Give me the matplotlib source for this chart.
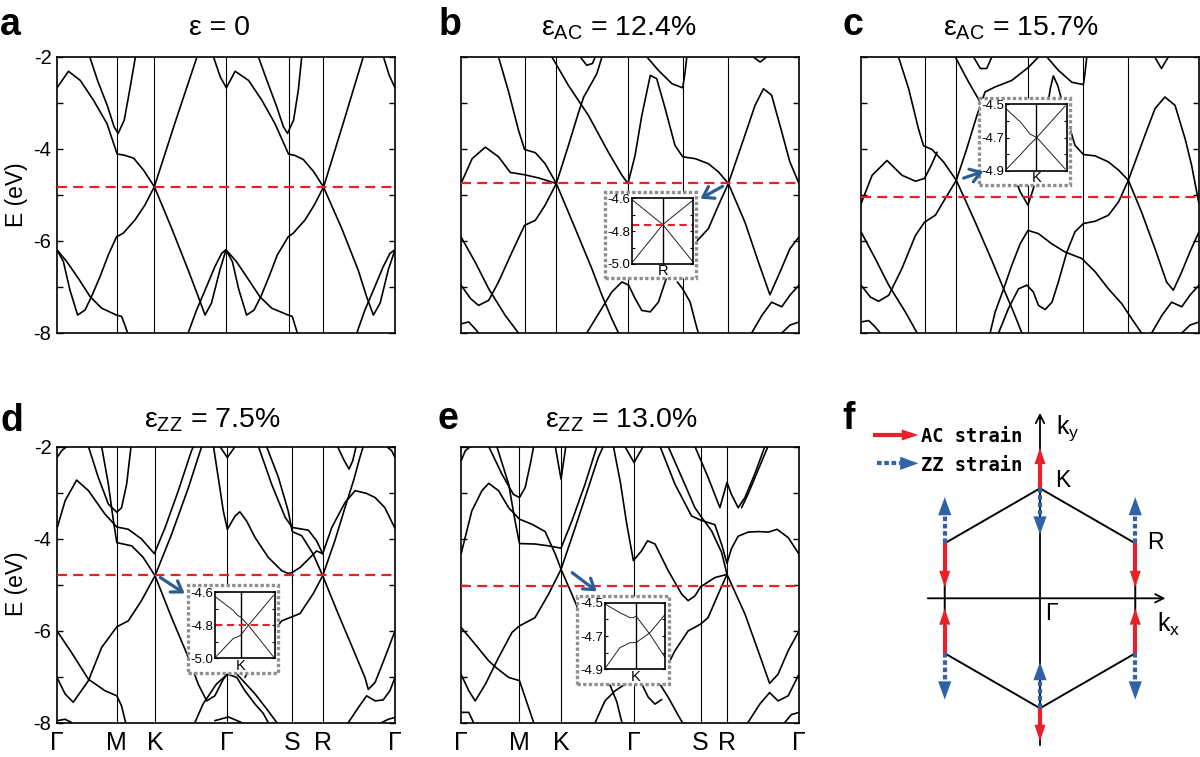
import matplotlib
matplotlib.use("Agg")
import matplotlib.pyplot as plt
from matplotlib.patches import Rectangle, Polygon, FancyArrowPatch

plt.rcParams['font.family'] = ['Liberation Sans', 'DejaVu Sans']
plt.rcParams['axes.unicode_minus'] = False
plt.rcParams['mathtext.fontset'] = 'custom'
plt.rcParams['mathtext.rm'] = 'Liberation Sans'
plt.rcParams['mathtext.it'] = 'Liberation Sans:italic'

# ---------------- data ----------------
KPATH_LABELS = ['Γ', 'M', 'K', 'Γ', 'S', 'R', 'Γ']
Y_MAJOR = [-8, -6, -4, -2]
Y_MINOR = [-7, -5, -3]
Y_LABELS = ['-8', '-6', '-4', '-2']

TITLES = ['ε = 0', r'$\mathrm{ε_{AC}}$ = 12.4%', r'$\mathrm{ε_{AC}}$ = 15.7%',
          r'$\mathrm{ε_{ZZ}}$ = 7.5%', r'$\mathrm{ε_{ZZ}}$ = 13.0%']

# high-symmetry positions (fraction of path) per panel
KPTS_A = [0.0, 0.178, 0.288, 0.501, 0.685, 0.788, 1.0]
KPTS_B = [0.0, 0.188, 0.282, 0.494, 0.656, 0.791, 1.0]
KPTS_C = [0.0, 0.188, 0.282, 0.494, 0.658, 0.791, 1.0]
KPTS_D = [0.0, 0.177, 0.290, 0.504, 0.696, 0.786, 1.0]
KPTS_E = [0.0, 0.173, 0.296, 0.512, 0.709, 0.787, 1.0]

# Fermi levels (eV)
EF = [-4.82, -4.75, -5.04, -4.80, -5.03]

BANDS_A = [
    [(0.097, -2.00), (0.120, -2.51), (0.150, -3.08), (0.169, -3.52), (0.181, -3.66), (0.199, -3.37), (0.215, -2.72), (0.232, -2.00)],
    [(0.0, -2.67), (0.034, -2.31), (0.069, -2.51), (0.108, -2.94), (0.148, -3.45), (0.178, -4.11), (0.197, -4.13), (0.227, -4.20),
     (0.256, -4.46), (0.288, -4.82), (0.339, -5.72), (0.388, -6.63), (0.418, -7.21), (0.438, -7.61), (0.457, -7.35), (0.482, -6.63), (0.500, -6.19)],
    [(0.0, -6.19), (0.019, -6.45), (0.038, -7.06), (0.061, -7.61), (0.083, -7.50), (0.102, -7.21), (0.127, -6.78), (0.152, -6.30),
     (0.176, -5.91), (0.196, -5.83), (0.231, -5.54), (0.260, -5.22), (0.288, -4.82), (0.350, -3.41), (0.414, -2.00)],
    [(0.0, -6.19), (0.029, -6.45), (0.063, -6.81), (0.098, -7.21), (0.132, -7.46), (0.176, -7.61), (0.191, -7.64), (0.201, -7.83), (0.209, -8.00)],
    [(0.388, -8.00), (0.413, -7.50), (0.438, -7.07), (0.467, -6.56), (0.487, -6.27), (0.500, -6.19)],
    [(0.463, -2.00), (0.483, -2.43), (0.501, -2.67)],
    [(0.596, -2.00), (0.621, -2.51), (0.650, -3.08), (0.670, -3.52), (0.682, -3.66), (0.700, -3.37), (0.714, -2.72), (0.724, -2.00)],
    [(0.501, -2.67), (0.527, -2.31), (0.567, -2.51), (0.606, -2.94), (0.645, -3.45), (0.685, -4.11), (0.704, -4.14), (0.729, -4.23),
     (0.759, -4.49), (0.788, -4.82), (0.842, -5.72), (0.891, -6.63), (0.916, -7.21), (0.936, -7.61), (0.956, -7.35), (0.980, -6.63), (1.0, -6.19)],
    [(0.500, -6.19), (0.519, -6.45), (0.538, -7.06), (0.561, -7.61), (0.583, -7.50), (0.603, -7.21), (0.627, -6.78), (0.652, -6.30),
     (0.684, -5.91), (0.699, -5.83), (0.734, -5.54), (0.761, -5.22), (0.789, -4.82), (0.848, -3.41), (0.906, -2.00)],
    [(0.500, -6.19), (0.531, -6.45), (0.564, -6.81), (0.600, -7.21), (0.635, -7.46), (0.684, -7.61), (0.696, -7.64), (0.704, -7.83), (0.711, -8.00)],
    [(0.887, -8.00), (0.911, -7.50), (0.936, -7.07), (0.965, -6.56), (0.985, -6.27), (1.0, -6.19)],
    [(0.966, -2.00), (0.983, -2.40), (1.0, -2.67)],
]

BANDS_B = [
    [(0.111, -2.00), (0.141, -2.76), (0.170, -3.59), (0.188, -4.01), (0.220, -4.08), (0.249, -4.32), (0.282, -4.75),
     (0.338, -5.73), (0.387, -6.60), (0.417, -7.18), (0.446, -7.69), (0.466, -8.00)],
    [(0.0, -4.75), (0.033, -4.21), (0.072, -3.96), (0.111, -4.17), (0.146, -4.51), (0.188, -4.56), (0.230, -4.63), (0.282, -4.75)],
    [(0.0, -6.96), (0.028, -7.25), (0.052, -7.40), (0.082, -7.29), (0.111, -6.89), (0.151, -6.24), (0.188, -5.66), (0.220, -5.55),
     (0.249, -5.22), (0.282, -4.75), (0.318, -3.92), (0.348, -3.20), (0.363, -2.87), (0.377, -2.69), (0.402, -2.36), (0.417, -2.00)],
    [(0.0, -5.91), (0.042, -6.46), (0.082, -7.04), (0.131, -7.62), (0.170, -8.00)],
    [(0.269, -2.00), (0.318, -2.62), (0.377, -3.27), (0.436, -4.07), (0.476, -4.57), (0.494, -4.75), (0.515, -4.14), (0.535, -3.27),
     (0.560, -2.40), (0.579, -2.47), (0.604, -3.12), (0.633, -3.92), (0.656, -4.17), (0.693, -4.21), (0.732, -4.32), (0.762, -4.50),
     (0.791, -4.75), (0.840, -5.59), (0.880, -6.46), (0.914, -7.17), (0.944, -6.67), (0.973, -6.17), (1.0, -5.91)],
    [(0.550, -2.00), (0.584, -2.29), (0.624, -2.58), (0.656, -2.67), (0.663, -2.33), (0.668, -2.00)],
    [(0.353, -2.00), (0.372, -2.18), (0.389, -2.14), (0.397, -2.00)],
    [(0.791, -4.75), (0.840, -3.70), (0.870, -3.05), (0.895, -2.69), (0.919, -2.83), (0.949, -3.63), (0.973, -4.28), (1.0, -4.75)],
    [(0.372, -8.00), (0.407, -7.58), (0.446, -7.11), (0.476, -6.89), (0.496, -6.96), (0.515, -7.25), (0.535, -7.51), (0.560, -7.54),
     (0.584, -7.33), (0.614, -6.67), (0.656, -6.17), (0.693, -6.04), (0.732, -5.73), (0.762, -5.22), (0.791, -4.75)],
    [(0.640, -6.89), (0.656, -7.04), (0.678, -7.33), (0.693, -7.76), (0.702, -8.00)],
    [(0.860, -8.00), (0.890, -7.62), (0.919, -7.33), (0.949, -7.43), (0.973, -7.18), (1.0, -6.96)],
    [(0.0, -7.80), (0.023, -7.76), (0.042, -7.91), (0.052, -8.00)],
    [(0.949, -8.00), (0.973, -7.83), (1.0, -7.76)],
    [(0.865, -2.00), (0.885, -2.11), (0.904, -2.00)],
]

BANDS_C = [
    [(0.111, -2.00), (0.141, -2.69), (0.170, -3.56), (0.185, -3.93), (0.210, -4.01), (0.244, -4.28), (0.282, -4.68),
     (0.338, -5.59), (0.387, -6.42), (0.422, -7.04), (0.451, -7.54), (0.476, -8.00)],
    [(0.0, -5.19), (0.033, -4.57), (0.077, -4.25), (0.121, -4.57), (0.161, -4.70), (0.188, -4.64), (0.208, -4.35), (0.225, -4.07)],
    [(0.0, -6.96), (0.028, -7.22), (0.052, -7.31), (0.082, -7.18), (0.121, -6.60), (0.161, -5.88), (0.188, -5.59), (0.220, -5.44),
     (0.249, -5.08), (0.282, -4.68), (0.313, -3.99), (0.343, -3.27), (0.367, -2.76), (0.397, -2.65), (0.446, -2.51), (0.496, -2.22), (0.525, -2.00)],
    [(0.0, -5.80), (0.042, -6.38), (0.082, -6.96), (0.131, -7.54), (0.166, -8.00)],
    [(0.279, -2.00), (0.318, -2.54), (0.358, -3.05), (0.397, -3.63), (0.436, -4.28), (0.471, -4.93), (0.494, -5.22), (0.510, -4.86),
     (0.530, -4.21), (0.545, -3.41), (0.560, -2.69), (0.569, -2.41), (0.582, -2.62), (0.604, -3.20), (0.633, -3.92), (0.658, -4.12),
     (0.693, -4.15), (0.732, -4.28), (0.762, -4.46), (0.791, -4.68), (0.830, -5.37), (0.870, -6.17), (0.904, -6.89), (0.924, -7.07),
     (0.949, -6.67), (0.973, -6.24), (1.0, -5.80)],
    [(0.550, -2.00), (0.584, -2.29), (0.624, -2.55), (0.658, -2.60), (0.663, -2.33), (0.668, -2.00)],
    [(0.333, -2.00), (0.353, -2.25), (0.372, -2.25), (0.387, -2.00)],
    [(0.791, -4.68), (0.840, -3.70), (0.870, -3.12), (0.899, -2.87), (0.929, -3.05), (0.959, -3.78), (0.978, -4.35), (1.0, -5.19)],
    [(0.407, -8.00), (0.436, -7.47), (0.466, -7.04), (0.491, -6.96), (0.510, -7.11), (0.525, -7.40), (0.545, -7.49), (0.565, -7.33),
     (0.584, -6.89), (0.609, -6.24), (0.633, -5.80), (0.658, -5.62), (0.693, -5.57), (0.732, -5.44), (0.762, -5.15), (0.791, -4.68)],
    [(0.382, -8.00), (0.397, -7.54), (0.422, -7.04), (0.446, -6.53), (0.471, -6.06), (0.494, -5.77), (0.525, -5.84), (0.564, -6.06),
     (0.604, -6.24), (0.653, -6.38), (0.693, -6.67), (0.732, -7.04), (0.771, -7.36), (0.801, -7.69), (0.830, -8.00)],
    [(0.860, -8.00), (0.890, -7.62), (0.919, -7.33), (0.949, -7.43), (0.973, -7.18), (1.0, -6.96)],
    [(0.0, -7.76), (0.023, -7.73), (0.042, -7.87), (0.057, -8.00)],
    [(0.869, -2.00), (0.889, -2.25), (0.909, -2.00)],
    [(0.949, -8.00), (0.973, -7.83), (1.0, -7.76)],
]

BANDS_D = [
    [(0.093, -2.00), (0.122, -2.67), (0.152, -3.25), (0.177, -3.43), (0.191, -3.33), (0.206, -2.82), (0.219, -2.00)],
    [(0.0, -3.78), (0.024, -3.18), (0.058, -2.73), (0.093, -2.96), (0.142, -3.47), (0.177, -3.75), (0.211, -3.80), (0.250, -4.01),
     (0.288, -4.33), (0.320, -3.76), (0.359, -2.96), (0.398, -2.09), (0.404, -2.00)],
    [(0.132, -2.00), (0.152, -2.82), (0.167, -3.62), (0.177, -4.09), (0.221, -4.16), (0.255, -4.41), (0.290, -4.81), (0.339, -5.72),
     (0.389, -6.59), (0.418, -7.17), (0.443, -7.53), (0.467, -7.42), (0.492, -7.06), (0.504, -6.95)],
    [(0.0, -7.02), (0.024, -7.38), (0.048, -7.56), (0.093, -7.09), (0.132, -6.37), (0.177, -5.92), (0.211, -5.79), (0.250, -5.35),
     (0.290, -4.81), (0.339, -3.91), (0.389, -2.89), (0.428, -2.00)],
    [(0.0, -6.01), (0.043, -6.48), (0.093, -7.06), (0.142, -7.31), (0.177, -7.42), (0.191, -7.64), (0.203, -8.00)],
    [(0.0, -7.96), (0.024, -7.93), (0.043, -8.00)],
    [(0.0, -2.24), (0.014, -2.09), (0.029, -2.00)],
    [(0.482, -2.00), (0.504, -2.24), (0.527, -2.00)],
    [(0.463, -2.00), (0.477, -2.67), (0.492, -3.40), (0.504, -3.80), (0.527, -3.51), (0.541, -3.42), (0.561, -3.62), (0.586, -3.98),
     (0.625, -4.41), (0.665, -4.70), (0.684, -4.76), (0.696, -4.74), (0.719, -4.63), (0.744, -4.45), (0.768, -4.27), (0.786, -4.33)],
    [(0.596, -2.00), (0.635, -2.82), (0.675, -3.54), (0.696, -3.76), (0.744, -3.82), (0.768, -4.05), (0.786, -4.33)],
    [(0.620, -2.00), (0.655, -2.67), (0.684, -3.40), (0.696, -3.85), (0.724, -3.94), (0.758, -4.34), (0.786, -4.81)],
    [(0.556, -7.02), (0.586, -6.59), (0.625, -6.15), (0.665, -5.79), (0.696, -5.70), (0.719, -5.63), (0.758, -5.20), (0.786, -4.81)],
    [(0.786, -4.33), (0.813, -3.76), (0.852, -3.22), (0.882, -2.96), (0.916, -3.02), (0.941, -3.11), (0.970, -3.33), (1.0, -3.78)],
    [(0.786, -4.81), (0.822, -4.05), (0.852, -3.33), (0.877, -2.75), (0.896, -2.24), (0.906, -2.00)],
    [(0.830, -2.00), (0.850, -2.31), (0.864, -2.49), (0.875, -2.31), (0.885, -2.00)],
    [(0.786, -4.81), (0.832, -5.64), (0.882, -6.51), (0.911, -7.02), (0.921, -7.28), (0.941, -7.13), (0.970, -6.59), (1.0, -6.01)],
    [(0.862, -8.00), (0.892, -7.67), (0.916, -7.42), (0.941, -7.53), (0.965, -7.51), (0.985, -7.31), (1.0, -7.02)],
    [(0.961, -8.00), (0.980, -7.93), (1.0, -7.89)],
    [(0.975, -2.00), (0.990, -2.09), (1.0, -2.24)],
    [(0.408, -8.00), (0.432, -7.60), (0.471, -7.17), (0.504, -6.95), (0.532, -7.02), (0.556, -7.31), (0.586, -7.60), (0.610, -7.80), (0.625, -8.00)],
    [(0.520, -6.85), (0.586, -7.38), (0.625, -7.75), (0.650, -8.00)],
    [(0.467, -7.96), (0.507, -7.88), (0.546, -8.00)],
]

BANDS_E = [
    [(0.0, -4.34), (0.032, -3.40), (0.062, -2.96), (0.082, -2.80), (0.111, -2.96), (0.141, -3.33), (0.173, -3.58), (0.210, -3.69),
     (0.249, -3.85), (0.279, -4.34), (0.296, -4.67), (0.328, -5.21), (0.357, -5.72), (0.387, -6.30), (0.436, -7.10), (0.461, -7.55), (0.476, -8.00)],
    [(0.106, -2.00), (0.141, -2.82), (0.160, -3.62), (0.173, -4.11), (0.219, -4.12), (0.259, -4.16), (0.296, -4.21), (0.328, -3.62),
     (0.367, -2.82), (0.402, -2.00)],
    [(0.082, -2.00), (0.121, -2.60), (0.155, -3.04), (0.173, -3.11), (0.190, -2.89), (0.205, -2.38), (0.215, -2.00)],
    [(0.0, -6.95), (0.023, -7.31), (0.042, -7.53), (0.072, -7.17), (0.111, -6.59), (0.151, -6.04), (0.173, -5.90), (0.219, -5.72),
     (0.259, -5.21), (0.296, -4.67), (0.338, -3.76), (0.377, -2.89), (0.406, -2.24), (0.421, -2.00)],
    [(0.0, -5.93), (0.042, -6.30), (0.082, -6.66), (0.106, -6.82), (0.141, -7.02), (0.173, -7.09), (0.190, -7.46), (0.215, -8.00)],
    [(0.0, -7.78), (0.023, -7.78), (0.037, -8.00)],
    [(0.0, -2.31), (0.013, -2.09), (0.028, -2.00)],
    [(0.279, -2.00), (0.296, -2.71), (0.310, -2.00)],
    [(0.451, -2.00), (0.472, -2.80), (0.490, -3.67), (0.510, -4.48), (0.534, -4.27), (0.552, -4.05), (0.574, -4.12), (0.613, -4.70),
     (0.653, -5.21), (0.672, -5.35), (0.692, -5.25), (0.709, -5.05), (0.751, -4.85), (0.787, -4.78)],
    [(0.485, -2.00), (0.512, -2.35), (0.539, -2.00)],
    [(0.589, -2.00), (0.633, -2.82), (0.682, -3.51), (0.709, -3.60), (0.751, -3.70), (0.772, -4.15), (0.787, -4.54)],
    [(0.613, -2.00), (0.662, -2.82), (0.692, -3.33), (0.709, -3.51), (0.741, -3.83), (0.771, -4.30), (0.787, -4.78)],
    [(0.787, -4.54), (0.800, -4.22), (0.820, -3.95), (0.850, -3.86), (0.880, -3.85), (0.910, -3.86), (0.935, -3.80), (0.968, -3.98), (1.0, -4.34)],
    [(0.692, -2.00), (0.731, -2.67), (0.766, -3.33), (0.787, -2.78), (0.800, -3.04), (0.820, -3.33), (0.840, -3.11), (0.869, -2.60), (0.899, -2.00)],
    [(0.830, -3.33), (0.849, -3.04), (0.874, -2.60), (0.908, -2.00)],
    [(0.787, -4.78), (0.840, -5.64), (0.879, -6.44), (0.913, -7.15), (0.938, -6.95), (0.968, -6.44), (1.0, -6.01)],
    [(0.849, -8.00), (0.884, -7.60), (0.913, -7.35), (0.938, -7.53), (0.968, -7.42), (1.0, -6.95)],
    [(0.958, -8.00), (0.977, -7.83), (1.0, -7.78)],
    [(0.787, -4.78), (0.761, -5.21), (0.731, -5.72), (0.709, -5.86), (0.672, -6.01), (0.633, -6.44), (0.613, -6.73)],
    [(0.397, -8.00), (0.426, -7.53), (0.456, -7.31), (0.485, -7.17), (0.512, -7.10), (0.534, -7.15), (0.554, -7.45), (0.574, -7.60), (0.594, -7.50)],
    [(0.574, -7.00), (0.613, -7.45), (0.643, -7.85), (0.655, -8.00)],
]

# insets: (k, E) zooms around the crossing point
INSET_B_K = [-1.0, 0.0, 1.0]
INSET_B_E1 = [-4.61, -4.76, -4.99]
INSET_B_E2 = [-4.99, -4.76, -4.61]
INSET_C_K = [-0.97, -0.5, -0.2, 0.02, 0.95]
INSET_C_E1 = [-4.53, -4.61, -4.68, -4.70, -4.89]
INSET_C_E2 = [-4.89, -4.80, -4.74, -4.70, -4.51]
INSET_D_K = [-0.96, -0.29, -0.12, 0.0, 0.30, 1.27]
INSET_D_E1 = [-4.63, -4.71, -4.74, -4.75, -4.80, -4.99]
INSET_D_E2 = [-4.99, -4.88, -4.87, -4.86, -4.80, -4.62]
INSET_E_K = [-0.98, -0.52, -0.19, -0.09, 0.0, 0.45, 0.94]
INSET_E_E1 = [-4.51, -4.56, -4.59, -4.59, -4.58, -4.69, -4.83]
INSET_E_E2 = [-4.89, -4.77, -4.74, -4.74, -4.74, -4.68, -4.57]

# panel f geometry (units of the Γ-K distance)
HEX_X = [0, 0.866, 0.866, 0, -0.866, -0.866, 0]
HEX_Y = [1, 0.5, -0.5, -1, -0.5, 0.5, 1]

RED = '#E8202A'
BLUE = '#2F62A8'
ARROW_BLUE = '#2D5B94'

W, H = 1200, 757
fig = plt.figure(figsize=(12, 7.57), dpi=100)


def fx(x):
    return x / W


def fy(y):
    return 1 - y / H


def add_axes_px(x0, y0, x1, y1, **kw):
    return fig.add_axes([x0 / W, 1 - y1 / H, (x1 - x0) / W, (y1 - y0) / H], **kw)


def main_panel(rect, bands, kpts, ef, show_y, show_x):
    ax = add_axes_px(*rect)
    ax.set_xlim(0, 1)
    ax.set_ylim(-8, -2)
    for v in kpts[1:-1]:
        ax.axvline(v, color='black', lw=0.8, zorder=1)
    for b in bands:
        k, e = zip(*b)
        ax.plot(k, e, color='black', lw=1.2, zorder=2, solid_joinstyle='round', solid_capstyle='round')
    ax.axhline(ef, color=RED, lw=1.6, dashes=(4.5, 2.8), zorder=3)
    ax.set_yticks(Y_MAJOR)
    ax.set_yticks(Y_MINOR, minor=True)
    ax.tick_params(axis='y', which='both', direction='in', left=True, right=True,
                   length=4.5, width=1.0, labelsize=14.5, pad=4, labelleft=show_y)
    if show_y:
        ax.set_yticklabels(Y_LABELS)
    if show_x:
        ax.set_xticks(kpts)
        ax.set_xticklabels(KPATH_LABELS, fontsize=18)
        ax.tick_params(axis='x', length=0, pad=6)
    else:
        ax.set_xticks([])
    for s in ax.spines.values():
        s.set_linewidth(1.2)
    return ax


def inset(box, axr, ylim, yticks, yminor, xlim, kname, k, e1, e2, ef=None):
    rect = Rectangle((fx(box[0]), fy(box[3])), (box[2] - box[0]) / W, (box[3] - box[1]) / H,
                     transform=fig.transFigure, facecolor='white', edgecolor='#8f8f8f',
                     lw=2.4, ls=(0, (1.0, 0.7)), zorder=5)
    fig.add_artist(rect)
    axi = add_axes_px(*axr)
    axi.set_zorder(6)
    axi.set_xlim(*xlim)
    axi.set_ylim(*ylim)
    axi.axvline(0, color='black', lw=1.0)
    axi.plot(k, e1, color='#222222', lw=0.7)
    axi.plot(k, e2, color='#222222', lw=0.7)
    if ef is not None:
        axi.axhline(ef, color=RED, lw=1.5, dashes=(3.5, 2.2))
    axi.set_yticks(yticks)
    axi.set_yticklabels(['%.1f' % t for t in yticks])
    axi.set_yticks(yminor, minor=True)
    axi.tick_params(axis='y', which='both', direction='in', left=True, right=True, length=2.5,
                    width=0.8, labelsize=9.5, pad=1.2)
    axi.set_xticks([0])
    axi.set_xticklabels([kname], fontsize=10.5)
    axi.tick_params(axis='x', length=0, pad=0.3)
    for s in axi.spines.values():
        s.set_linewidth(1.2)
    return axi


def fig_arrow(x0, y0, x1, y1):
    a = FancyArrowPatch((fx(x0), fy(y0)), (fx(x1), fy(y1)), transform=fig.transFigure,
                        arrowstyle='->,head_length=0.45,head_width=0.3', mutation_scale=16,
                        lw=2.3, color=ARROW_BLUE, zorder=7)
    fig.add_artist(a)


panels = [
    ((57, 57, 395, 333), BANDS_A, KPTS_A, EF[0], True, False),
    ((461, 57, 799, 333), BANDS_B, KPTS_B, EF[1], False, False),
    ((861, 57, 1199, 333), BANDS_C, KPTS_C, EF[2], False, False),
    ((57, 446.5, 395, 722.5), BANDS_D, KPTS_D, EF[3], True, True),
    ((461, 446.5, 799, 722.5), BANDS_E, KPTS_E, EF[4], False, True),
]
for p in panels:
    main_panel(*p)

# titles and panel letters
title_pos = [(220, 35), (619, 35), (1021, 35), (212, 428), (621, 427)]
for t, (x, y) in zip(TITLES, title_pos):
    fig.text(fx(x), fy(y), t, ha='center', va='baseline', fontsize=20.5)
letter_pos = [('a', 0, 35), ('b', 439, 35), ('c', 843, 35), ('d', 0, 431), ('e', 437, 429), ('f', 842, 429)]
for s, x, y in letter_pos:
    fig.text(fx(x), fy(y), s, ha='left', va='baseline', fontsize=27, fontweight='bold')
fig.text(fx(16), fy(195), 'E (eV)', rotation=90, ha='center', va='center', fontsize=16.5)
fig.text(fx(16), fy(584), 'E (eV)', rotation=90, ha='center', va='center', fontsize=16.5)

# insets
inset((605, 192, 696, 278), (632.3, 198.3, 693.3, 264), (-5.0, -4.6), [-5.0, -4.8, -4.6], [-4.9, -4.7],
      (-1, 1), 'R', INSET_B_K, INSET_B_E1, INSET_B_E2, ef=-4.76)
inset((979, 98, 1070, 185), (1005.7, 104.3, 1066.7, 170.7), (-4.9, -4.5), [-4.9, -4.7, -4.5], [-4.8, -4.6],
      (-1, 1), 'K', INSET_C_K, INSET_C_E1, INSET_C_E2)
inset((188, 585, 278.3, 673.3), (215, 592.3, 275, 658.3), (-5.0, -4.6), [-5.0, -4.8, -4.6], [-4.9, -4.7],
      (-1, 1.336), 'K', INSET_D_K, INSET_D_E1, INSET_D_E2, ef=-4.80)
inset((577.3, 596, 669, 684), (605, 602.7, 665, 669.3), (-4.9, -4.5), [-4.9, -4.7, -4.5], [-4.8, -4.6],
      (-1, 0.935), 'K', INSET_E_K, INSET_E_E1, INSET_E_E2)

fig_arrow(725, 185, 698, 200)
fig_arrow(961, 179, 986, 170.5)
fig_arrow(158, 576, 187, 595)
fig_arrow(570, 571, 599, 593)

# ---------------- panel f ----------------
axf = add_axes_px(830, 380, 1200, 757)
axf.set_xlim(-1.909, 1.4545)
axf.set_ylim(-1.443, 1.985)
axf.axis('off')
axf.plot(HEX_X, HEX_Y, color='black', lw=1.4, zorder=1)
axf.annotate('', xy=(0, 1.712), xytext=(0, -1.361),
             arrowprops=dict(arrowstyle='->,head_length=0.6,head_width=0.3', lw=1.3, color='black'))
axf.annotate('', xy=(1.166, 0), xytext=(-1.045, 0),
             arrowprops=dict(arrowstyle='->,head_length=0.6,head_width=0.3', lw=1.3, color='black'))


def strain_arrow(x0, y0, x1, y1, color, dotted, hl=0.15, hw=0.05):
    dx, dy = x1 - x0, y1 - y0
    L = (dx ** 2 + dy ** 2) ** 0.5
    ux, uy = dx / L, dy / L
    bx, by = x1 - ux * hl, y1 - uy * hl
    if dotted:
        axf.plot([x0, bx], [y0, by], color=color, lw=3.0, dashes=(1.1, 0.65), solid_capstyle='butt',
                 dash_capstyle='butt', zorder=3)
    else:
        axf.plot([x0, bx], [y0, by], color=color, lw=3.0, solid_capstyle='butt', zorder=3)
    px, py = -uy, ux
    tri = Polygon([(x1, y1), (bx + px * hw, by + py * hw), (bx - px * hw, by - py * hw)],
                  closed=True, color=color, zorder=4, lw=0)
    axf.add_patch(tri)


AC_ARROWS = [(0, 1.0, 0, 1.37), (0, -1.0, 0, -1.30),
             (-0.866, 0.5, -0.866, 0.10), (0.866, 0.5, 0.866, 0.10),
             (-0.866, -0.5, -0.866, -0.09), (0.866, -0.5, 0.866, -0.09)]
ZZ_ARROWS = [(-0.866, 0.5, -0.866, 0.92), (0.866, 0.5, 0.866, 0.92),
             (-0.866, -0.5, -0.866, -0.92), (0.866, -0.5, 0.866, -0.92),
             (0, 1.0, 0, 0.58), (0, -1.0, 0, -0.58)]
for a in ZZ_ARROWS:
    strain_arrow(*a, BLUE, True, hl=0.165, hw=0.06)
for a in AC_ARROWS:
    strain_arrow(*a, RED, False)

strain_arrow(-1.515, 1.485, -1.106, 1.485, RED, False)
strain_arrow(-1.485, 1.227, -1.106, 1.227, BLUE, True, hl=0.165, hw=0.06)
axf.text(-1.085, 1.47, 'AC strain', fontsize=13.5, fontweight='bold', family='DejaVu Sans Mono',
         ha='left', va='center')
axf.text(-1.085, 1.212, 'ZZ strain', fontsize=13.5, fontweight='bold', family='DejaVu Sans Mono',
         ha='left', va='center')
axf.text(0.21, 1.075, 'K', fontsize=16.5, ha='center', va='center')
axf.text(1.045, 0.505, 'R', fontsize=16.5, ha='center', va='center')
axf.text(0.106, -0.14, 'Γ', fontsize=16.5, ha='center', va='center')
axf.text(0.15, 1.55, r'$\mathregular{k_y}$', fontsize=18, ha='left', va='center')
axf.text(1.06, -0.24, r'$\mathregular{k_x}$', fontsize=18, ha='left', va='center')

fig.savefig('out.png', dpi=100)
